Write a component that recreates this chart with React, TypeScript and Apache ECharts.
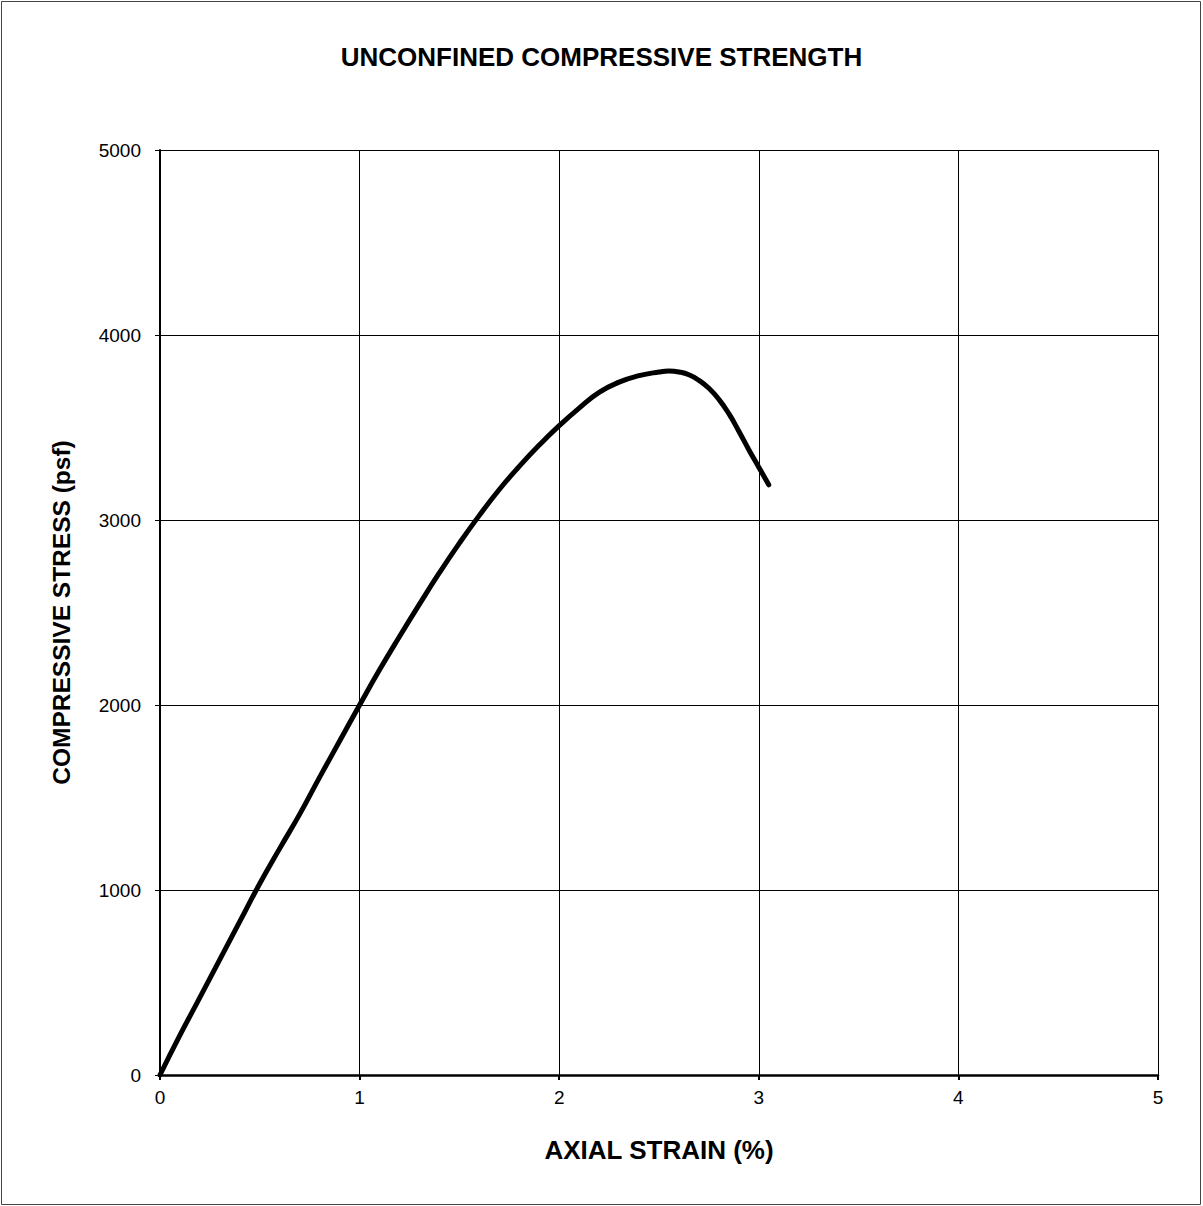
import React, { useEffect, useRef } from "react";
import * as echarts from "echarts";

const strain: number[] = [0, 0.1, 0.2, 0.3, 0.4, 0.5, 0.6, 0.7, 0.8, 0.9, 1.0, 1.1, 1.2, 1.3, 1.4, 1.5, 1.6, 1.7, 1.8, 1.9, 2.0, 2.1, 2.2, 2.3, 2.4, 2.5, 2.55, 2.6, 2.65, 2.7, 2.75, 2.8, 2.85, 2.9, 2.95, 3.0, 3.05];
const stress: number[] = [0, 215, 420, 625, 830, 1035, 1225, 1410, 1610, 1805, 2000, 2190, 2370, 2545, 2715, 2875, 3025, 3165, 3290, 3405, 3510, 3605, 3690, 3745, 3780, 3800, 3805, 3800, 3785, 3755, 3712, 3652, 3575, 3480, 3380, 3285, 3190];

const titleText = "UNCONFINED COMPRESSIVE STRENGTH";
const xName = "AXIAL STRAIN (%)";
const yName = "COMPRESSIVE STRESS (psf)";

const FONT = "'Liberation Sans', Arial, Helvetica, sans-serif";

export default function App() {
  const ref = useRef<HTMLDivElement>(null);
  useEffect(() => {
    document.body.style.margin = "0";
    const chart = echarts.init(ref.current!, null, { renderer: "svg" });
    chart.setOption({
      animation: false,
      backgroundColor: "#ffffff",
      textStyle: { fontFamily: FONT },
      title: {
        text: titleText,
        left: "center",
        top: 39,
        textStyle: { fontFamily: FONT, fontSize: 26, fontWeight: "bold", color: "#000" },
      },
      graphic: [
        {
          type: "rect",
          shape: { x: 1.5, y: 1.5, width: 1199, height: 1203 },
          style: { fill: "none", stroke: "#444", lineWidth: 1 },
          silent: true,
        },
      ],
      grid: { left: 160, top: 150, width: 998, height: 925 },
      xAxis: {
        type: "value",
        min: 0,
        max: 5,
        interval: 1,
        name: xName,
        nameLocation: "middle",
        nameGap: 62,
        nameTextStyle: { fontFamily: FONT, fontSize: 26, fontWeight: "bold", color: "#000" },
        axisLine: { show: true, onZero: false, lineStyle: { color: "#000", width: 2.5 } },
        axisTick: { show: true, inside: false, length: 5, lineStyle: { color: "#000", width: 2 } },
        axisLabel: { fontFamily: FONT, fontSize: 19, color: "#000", margin: 13, formatter: (v: number) => String(v) },
        splitLine: { show: true, lineStyle: { color: "#000", width: 1 } },
      },
      yAxis: {
        type: "value",
        min: 0,
        max: 5000,
        interval: 1000,
        name: yName,
        nameLocation: "middle",
        nameRotate: 90,
        nameGap: 86,
        nameTextStyle: { fontFamily: FONT, fontSize: 24.5, fontWeight: "bold", color: "#000" },
        axisLine: { show: true, onZero: false, lineStyle: { color: "#000", width: 2 } },
        axisTick: { show: true, inside: false, length: 5, lineStyle: { color: "#000", width: 1 } },
        axisLabel: { fontFamily: FONT, fontSize: 19, color: "#000", margin: 19, formatter: (v: number) => String(v) },
        splitLine: { show: true, lineStyle: { color: "#000", width: 1 } },
      },
      series: [
        {
          type: "line",
          data: strain.map((x, i) => [x, stress[i]]),
          smooth: true,
          showSymbol: false,
          symbol: "none",
          lineStyle: { color: "#000", width: 5, cap: "round", join: "round" },
        },
      ],
    });
    return () => chart.dispose();
  }, []);
  return <div ref={ref} style={{ width: 1203, height: 1206 }} />;
}
